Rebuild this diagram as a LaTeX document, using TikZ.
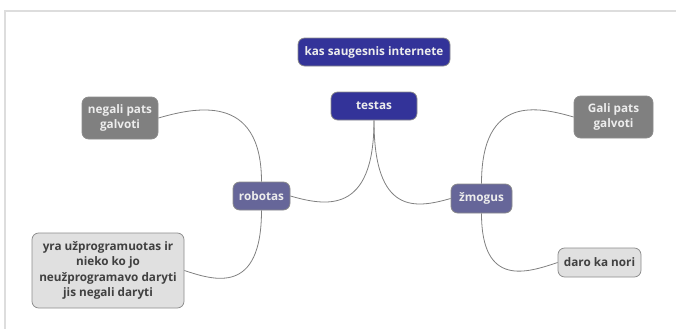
\documentclass[tikz,border=0pt]{standalone}
\usepackage{fontspec}
\setmainfont{Open Sans}
\begin{document}
\begin{tikzpicture}[x=0.75pt,y=-0.75pt,
  box/.style={draw=black!45,line width=0.6pt,rounded corners=5pt,
    font=\bfseries\fontsize{8.8}{11.6}\selectfont,align=center,inner sep=0pt},
  topbox/.style={box,fill=topc,text=white!93!black},
  midbox/.style={box,fill=midc,text=white!93!black},
  darkbox/.style={box,fill=darkc,text=white!93!black},
  lightbox/.style={box,fill=lightc,text=textc},
  link/.style={draw=linec,line width=0.6pt}]
\definecolor{topc}{RGB}{51,51,153}
\definecolor{midc}{RGB}{102,102,153}
\definecolor{darkc}{RGB}{128,128,128}
\definecolor{lightc}{RGB}{224,224,224}
\definecolor{textc}{RGB}{64,64,64}
\definecolor{linec}{RGB}{128,128,128}
\definecolor{framec}{RGB}{221,221,221}
\useasboundingbox (0,0) rectangle (676,329);
\coordinate (fa) at (5,329);
\coordinate (fb) at (5,11);
\coordinate (fc) at (676,11);
\draw[framec,line width=1.2pt] (fa) -- (fb) -- (fc);
\node[topbox,minimum width=152*0.75pt,minimum height=28*0.75pt] (kas) at (374,52) {kas saugesnis internete};
\node[topbox,minimum width=86*0.75pt,minimum height=28*0.75pt] (testas) at (374,106) {testas};
\node[midbox,minimum width=57*0.75pt,minimum height=28*0.75pt] (robotas) at (261.5,196) {robotas};
\node[midbox,minimum width=61*0.75pt,minimum height=29*0.75pt] (zmogus) at (481.5,198.5) {žmogus};
\node[darkbox,minimum width=76*0.75pt,minimum height=42*0.75pt] (negali) at (120,118) {negali pats\\galvoti};
\node[darkbox,minimum width=79*0.75pt,minimum height=42*0.75pt] (gali) at (613.5,117) {Gali pats\\galvoti};
\node[lightbox,minimum width=152*0.75pt,minimum height=75*0.75pt] (yra) at (108,270.5) {yra užprogramuotas ir\\nieko ko jo\\neužprogramavo daryti\\jis negali daryti};
\node[lightbox,minimum width=83*0.75pt,minimum height=29*0.75pt] (daro) at (599.5,262.5) {daro ka nori};
\draw[link] (testas.south) .. controls +(0,95) and +(35,10) .. (robotas.east);
\draw[link] (testas.south) .. controls +(0,95) and +(-35,10) .. (zmogus.west);
\draw[link] (robotas.north) .. controls +(0,-90) and +(35,-10) .. (negali.east);
\draw[link] (robotas.south) .. controls +(0,85) and +(30,10) .. (yra.east);
\draw[link] (zmogus.north) .. controls +(0,-90) and +(-35,-10) .. (gali.west);
\draw[link] (zmogus.south) .. controls +(0,75) and +(-30,10) .. (daro.west);
\end{tikzpicture}
\end{document}
